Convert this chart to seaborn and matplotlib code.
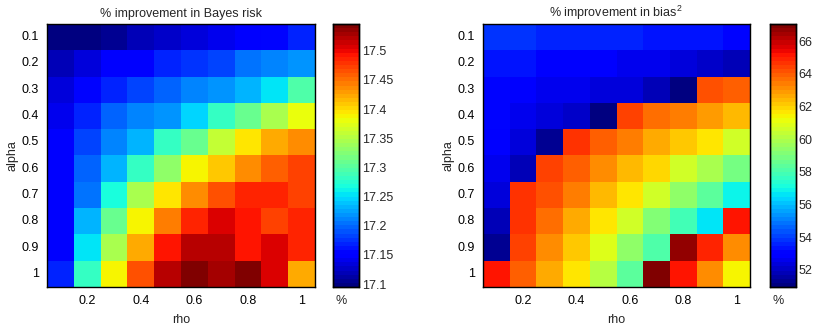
import numpy as np
import pandas as pd
import matplotlib
matplotlib.use('Agg')
import matplotlib.pyplot as plt
import seaborn as sns

# -------------------------------------------
# данные
rho = [0.1, 0.2, 0.3, 0.4, 0.5, 0.6, 0.7, 0.8, 0.9, 1]
alpha = [0.1, 0.2, 0.3, 0.4, 0.5, 0.6, 0.7, 0.8, 0.9, 1]

# % улучшения байесовского риска (строки - alpha, столбцы - rho)
bayes_risk = [
    [17.095, 17.100, 17.109, 17.118, 17.127, 17.136, 17.140, 17.149, 17.154, 17.167],
    [17.122, 17.131, 17.149, 17.151, 17.167, 17.174, 17.185, 17.201, 17.208, 17.221],
    [17.131, 17.158, 17.172, 17.181, 17.194, 17.208, 17.217, 17.230, 17.257, 17.293],
    [17.140, 17.172, 17.194, 17.208, 17.221, 17.244, 17.280, 17.311, 17.348, 17.377],
    [17.151, 17.185, 17.208, 17.230, 17.280, 17.311, 17.357, 17.393, 17.420, 17.438],
    [17.151, 17.194, 17.230, 17.280, 17.330, 17.384, 17.411, 17.438, 17.460, 17.474],
    [17.151, 17.201, 17.271, 17.348, 17.397, 17.438, 17.465, 17.483, 17.483, 17.474],
    [17.151, 17.230, 17.311, 17.384, 17.447, 17.483, 17.505, 17.496, 17.474, 17.483],
    [17.151, 17.257, 17.348, 17.424, 17.490, 17.523, 17.523, 17.496, 17.510, 17.483],
    [17.167, 17.284, 17.384, 17.465, 17.523, 17.546, 17.528, 17.544, 17.510, 17.424],
]

# % улучшения bias^2
bias_sq = [
    [53.89, 53.89, 53.64, 53.64, 53.64, 53.56, 53.40, 53.40, 53.40, 53.08],
    [53.40, 53.40, 52.91, 52.91, 52.75, 52.59, 52.59, 52.43, 52.10, 51.94],
    [53.08, 52.75, 52.59, 52.51, 52.43, 52.26, 51.94, 50.96, 64.13, 63.96],
    [53.08, 52.51, 52.34, 52.10, 50.96, 64.45, 63.64, 63.48, 62.99, 62.34],
    [52.75, 52.43, 51.29, 64.78, 63.96, 63.48, 62.66, 62.18, 61.69, 60.71],
    [52.59, 51.78, 64.45, 63.96, 63.15, 62.50, 61.85, 60.71, 59.90, 58.93],
    [52.26, 64.78, 64.13, 63.48, 62.50, 61.69, 60.55, 59.41, 58.28, 56.89],
    [51.78, 64.61, 63.64, 62.66, 61.69, 60.55, 59.09, 57.95, 56.65, 65.26],
    [51.45, 64.29, 63.15, 62.18, 60.96, 59.41, 58.11, 66.73, 64.94, 63.15],
    [65.26, 63.80, 62.66, 61.69, 60.23, 58.44, 67.05, 65.26, 63.15, 61.36],
]

titles = ['% improvement in Bayes risk', '% improvement in bias$^{\\,2}$']
cbar_ticks = [[17.1, 17.15, 17.2, 17.25, 17.3, 17.35, 17.4, 17.45, 17.5],
              [52, 54, 56, 58, 60, 62, 64, 66]]
cbar_labels = [['17.1', '17.15', '17.2', '17.25', '17.3', '17.35', '17.4', '17.45', '17.5'],
               ['52', '54', '56', '58', '60', '62', '64', '66']]

# -------------------------------------------
# оформление
sns.set_style('white')
plt.rcParams['font.family'] = ['Liberation Sans', 'DejaVu Sans']
plt.rcParams['mathtext.fontset'] = 'custom'
plt.rcParams['mathtext.rm'] = 'Liberation Sans'
FS = 9

jet64 = matplotlib.colormaps['jet'].resampled(64)

fig = plt.figure(figsize=(8.18, 3.31), dpi=100)
ax_pos = [[0.0575, 0.133, 0.3276, 0.7946], [0.5905, 0.133, 0.3264, 0.7946]]
cb_pos = [[0.4071, 0.133, 0.0318, 0.7946], [0.9413, 0.133, 0.0318, 0.7946]]

for i, data in enumerate([bayes_risk, bias_sq]):
    ax = fig.add_axes(ax_pos[i])
    cax = fig.add_axes(cb_pos[i])
    df = pd.DataFrame(data, index=alpha, columns=rho)
    vals = np.array(data)
    sns.heatmap(df, cmap=jet64, vmin=vals.min(), vmax=vals.max(),
                ax=ax, cbar_ax=cax, square=False)

    # оси
    ax.set_xticks(np.arange(1, 10, 2) + 0.5)
    ax.set_xticklabels([f'{r:g}' for r in rho[1::2]], rotation=0)
    ax.set_yticks(np.arange(10) + 0.5)
    ax.set_yticklabels([f'{a:g}' for a in alpha], rotation=0)
    ax.tick_params(direction='in', length=3, width=0.8, top=True, right=True,
                   bottom=True, left=True, pad=6, colors='black', labelsize=FS)
    for s in ax.spines.values():
        s.set_visible(True)
        s.set_linewidth(1)
        s.set_color('black')
    ax.set_xlabel('rho', fontsize=FS, labelpad=5)
    ax.set_ylabel('alpha', fontsize=FS, labelpad=2)
    ax.set_title(titles[i], fontsize=FS, pad=5)

    # цветовая шкала
    cax.set_yticks(cbar_ticks[i])
    cax.set_yticklabels(cbar_labels[i])
    cax.tick_params(direction='in', length=3, width=0.8, left=True, right=True,
                    labelsize=FS, pad=2)
    for s in cax.spines.values():
        s.set_visible(True)
        s.set_linewidth(1)
        s.set_color('black')
    cax.text(0.1, -0.055, '%', transform=cax.transAxes, ha='left', va='center',
             fontsize=FS)

fig.savefig('out.png', dpi=100)
